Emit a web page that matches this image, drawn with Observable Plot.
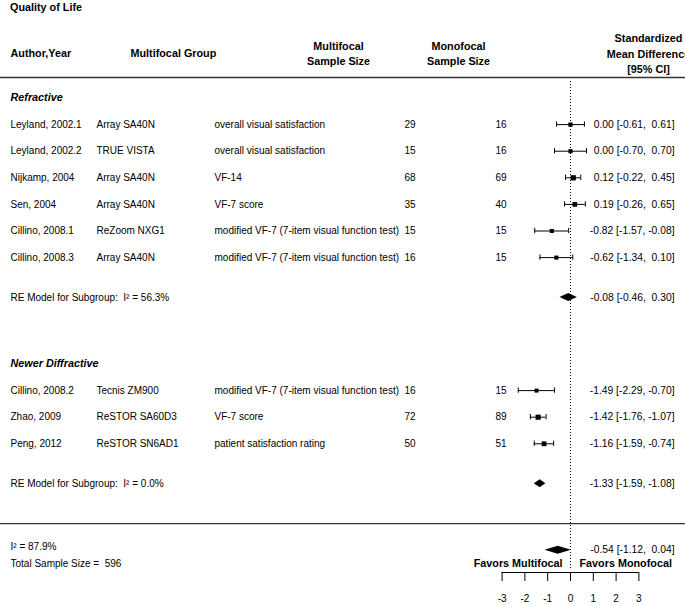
<!DOCTYPE html>
<html><head><meta charset="utf-8">
<script src="https://cdn.jsdelivr.net/npm/d3@7"></script>
<script src="https://cdn.jsdelivr.net/npm/@observablehq/plot@0.6"></script>
<style>
body{margin:0;background:#fff;color:#000;font-family:"Liberation Sans",Arial,sans-serif;}
#title{font:bold 10.8px "Liberation Sans",Arial,sans-serif;height:14px;line-height:14px;padding-left:10px;}
#chart svg text{white-space:pre}
</style></head><body>
<div id="title">Quality of Life</div>
<div id="chart"></div>
<script>
// ---- data ----
const studies   = ["Leyland, 2002.1","Leyland, 2002.2","Nijkamp, 2004","Sen, 2004","Cillino, 2008.1","Cillino, 2008.3","Cillino, 2008.2","Zhao, 2009","Peng, 2012"];
const groups    = ["Array SA40N","TRUE VISTA","Array SA40N","Array SA40N","ReZoom NXG1","Array SA40N","Tecnis ZM900","ReSTOR SA60D3","ReSTOR SN6AD1"];
const outcomes  = ["overall visual satisfaction","overall visual satisfaction","VF-14","VF-7 score","modified VF-7 (7-item visual function test)","modified VF-7 (7-item visual function test)","modified VF-7 (7-item visual function test)","VF-7 score","patient satisfaction rating"];
const nMulti    = [29,15,68,35,15,16,16,72,50];
const nMono     = [16,16,69,40,15,15,15,89,51];
const smd       = [0.00,0.00,0.12,0.19,-0.82,-0.62,-1.49,-1.42,-1.16];
const ciLow     = [-0.61,-0.70,-0.22,-0.26,-1.57,-1.34,-2.29,-1.76,-1.59];
const ciHigh    = [0.61,0.70,0.45,0.65,-0.08,0.10,-0.70,-1.07,-0.74];
const subgroup  = [0,0,0,0,0,0,1,1,1];
const subgroupNames = ["Refractive","Newer Diffractive"];
const reSmd  = [-0.08,-1.33];
const reLow  = [-0.46,-1.59];
const reHigh = [0.30,-1.08];
const reI2   = ["56.3%","0.0%"];
const overallSmd = -0.54, overallLow = -1.12, overallHigh = 0.04;
const overallI2 = "87.9%";
const totalN = 596;
const xTicks = [-3,-2,-1,0,1,2,3];

// ---- layout helpers (page pixel -> scale units) ----
const X0 = 570, XU = 22.8;            // x=0 position and px per unit
const R0 = 97.5 - 14, RU = 26.6;      // row 0 position inside svg, px per row
const px = p => (p - X0) / XU;
const pr = p => (p - 14 - R0) / RU;   // page y -> row

// rows
const studyRows = [], headerRows = [], reRows = [];
{
  let r = 0;
  subgroupNames.forEach((g, gi) => {
    headerRows.push(r); r += 1;
    subgroup.forEach((s, i) => { if (s === gi) { studyRows[i] = r; r += 1; } });
    reRows.push(r + 0.5);
    r += 3;
  });
}
const overallRow = 17;

const fmt = v => (v < 0 ? "-" : " ") + Math.abs(v).toFixed(2);
const ciText = (e, l, h) => `${fmt(e)} [${fmt(l)}, ${fmt(h)}]`;

const table = studies.map((s, i) => ({
  study: s, group: groups[i], outcome: outcomes[i], nm: nMulti[i], nf: nMono[i],
  est: smd[i], lo: ciLow[i], hi: ciHigh[i], row: studyRows[i],
  ci: ciText(smd[i], ciLow[i], ciHigh[i])
}));
const sw = table.map(d => 3.92 / (d.hi - d.lo));
const swMin = d3.min(sw), swMax = d3.max(sw);
table.forEach((d, i) => { d.side = 4 + 1.2 * (sw[i] - swMin) / (swMax - swMin); d.r = d.side / Math.sqrt(Math.PI); });

const summaries = [
  ...reSmd.map((e, i) => ({id: "re" + i, est: e, lo: reLow[i], hi: reHigh[i], row: reRows[i],
    label: `RE Model for Subgroup:  I² = ${reI2[i]}`})),
  {id: "all", est: overallSmd, lo: overallLow, hi: overallHigh, row: overallRow, label: null}
];
summaries.forEach(d => d.ci = ciText(d.est, d.lo, d.hi));
const h = 0.15;
const diamonds = summaries.flatMap(d => [
  {id: d.id, x: d.lo, y1: d.row, y2: d.row},
  {id: d.id, x: d.est, y1: d.row - h, y2: d.row + h},
  {id: d.id, x: d.hi, y1: d.row, y2: d.row}
]);

const F = 10, FC = 10.3, FB = 10.8;
const base = {fontSize: F, fill: "#000"};
const baseC = {fontSize: FC, fill: "#000"};

const chart = Plot.plot({
  width: 685, height: 591,
  marginTop: 0, marginRight: 0, marginBottom: 0, marginLeft: 0,
  style: {fontFamily: '"Liberation Sans", Arial, sans-serif', background: "#fff", color: "#000", overflow: "hidden"},
  x: {type: "linear", domain: [0, 1], range: [X0, X0 + XU], axis: null},
  y: {type: "linear", domain: [0, 1], range: [R0, R0 + RU], axis: null},
  r: {type: "linear", domain: [0, 10], range: [0, 10]},
  marks: [
    // header
    Plot.text(["Author,Year"], {x: px(10), y: pr(53), textAnchor: "start", fontWeight: "bold", fontSize: FB, fill: "#000"}),
    Plot.text(["Multifocal Group"], {x: px(130), y: pr(53), textAnchor: "start", fontWeight: "bold", fontSize: FB, fill: "#000"}),
    Plot.text(["Multifocal\nSample Size"], {x: px(338), y: pr(52), textAnchor: "middle", lineHeight: 1.45, fontWeight: "bold", fontSize: FB, fill: "#000"}),
    Plot.text(["Monofocal\nSample Size"], {x: px(458), y: pr(52), textAnchor: "middle", lineHeight: 1.45, fontWeight: "bold", fontSize: FB, fill: "#000"}),
    Plot.text(["Standardized\nMean Difference\n[95% CI]"], {x: px(648), y: pr(52), textAnchor: "middle", lineHeight: 1.45, fontWeight: "bold", fontSize: FB, fill: "#000"}),
    Plot.ruleY([pr(77)], {stroke: "#333", strokeWidth: 1.3}),
    Plot.ruleY([16], {stroke: "#333", strokeWidth: 1.3}),
    // reference line
    Plot.ruleX([0], {y1: pr(81), y2: pr(568), stroke: "#000", strokeDasharray: "1,2", strokeWidth: 1}),
    // subgroup headers
    Plot.text(subgroupNames, {x: px(10), y: (d, i) => headerRows[i], textAnchor: "start", fontWeight: "bold", fontStyle: "italic", fontSize: FB, fill: "#000"}),
    // study columns
    Plot.text(table, {x: px(10), y: "row", text: "study", textAnchor: "start", ...base}),
    Plot.text(table, {x: px(96), y: "row", text: "group", textAnchor: "start", ...base}),
    Plot.text(table, {x: px(214), y: "row", text: "outcome", textAnchor: "start", ...base}),
    Plot.text(table, {x: px(404), y: "row", text: "nm", textAnchor: "start", ...base}),
    Plot.text(table, {x: px(495), y: "row", text: "nf", textAnchor: "start", ...base}),
    Plot.text(table, {x: px(674), y: "row", text: "ci", textAnchor: "end", ...baseC}),
    // CIs
    Plot.ruleY(table, {x1: "lo", x2: "hi", y: "row", stroke: "#000", strokeWidth: 1}),
    Plot.ruleX(table, {x: "lo", y1: d => d.row - 0.1, y2: d => d.row + 0.1, stroke: "#000", strokeWidth: 1}),
    Plot.ruleX(table, {x: "hi", y1: d => d.row - 0.1, y2: d => d.row + 0.1, stroke: "#000", strokeWidth: 1}),
    Plot.dot(table, {x: "est", y: "row", r: "r", symbol: "square", fill: "#000", stroke: "none"}),
    // summaries
    Plot.areaY(diamonds, {x: "x", y1: "y1", y2: "y2", z: "id", fill: "#000"}),
    Plot.text(summaries.filter(d => d.label), {x: px(10), y: "row", text: "label", textAnchor: "start", ...base}),
    Plot.text(summaries, {x: px(674), y: "row", text: "ci", textAnchor: "end", ...baseC}),
    Plot.text([`I² = ${overallI2}`], {x: px(10), y: pr(546), textAnchor: "start", ...base}),
    Plot.text([`Total Sample Size =  ${totalN}`], {x: px(10), y: pr(563), textAnchor: "start", ...base}),
    // favors labels
    Plot.text(["Favors Multifocal"], {x: px(562), y: pr(563), textAnchor: "end", fontWeight: "bold", fontSize: FB, fill: "#000"}),
    Plot.text(["Favors Monofocal"], {x: px(579), y: pr(563), textAnchor: "start", fontWeight: "bold", fontSize: FB, fill: "#000"}),
    // axis
    Plot.ruleY([pr(572)], {x1: d3.min(xTicks), x2: d3.max(xTicks), stroke: "#000", strokeWidth: 1}),
    Plot.ruleX(xTicks, {x: d => d, y1: pr(572), y2: pr(581), stroke: "#000", strokeWidth: 1}),
    Plot.text(xTicks, {x: d => d, y: pr(598), text: d => String(d), textAnchor: "middle", ...base})
  ]
});
document.getElementById("chart").appendChild(chart);
</script>
</body></html>
